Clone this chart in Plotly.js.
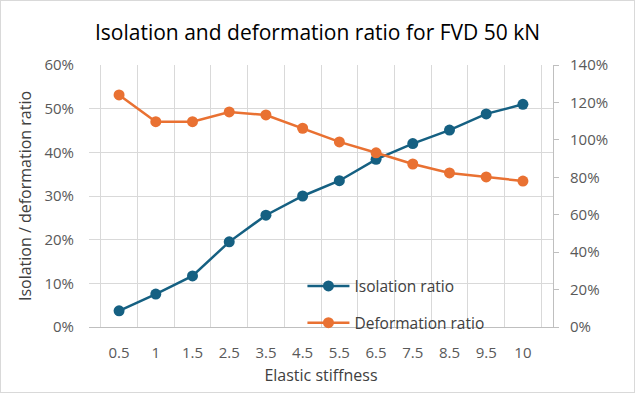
<!DOCTYPE html>
<html>
<head>
<meta charset="utf-8">
<script src="https://cdn.plot.ly/plotly-3.0.1.min.js"></script>
<style>
html,body{margin:0;padding:0;background:#fff;}
#wrap{position:relative;width:635px;height:393px;}
#chart{width:635px;height:393px;}
#frame{position:absolute;left:0;top:0;width:633px;height:391px;border:1px solid #d9d9d9;pointer-events:none;}
</style>
</head>
<body>
<div id="wrap"><div id="chart"></div><div id="frame"></div></div>
<script>
const categories = ["0.5","1","1.5","2.5","3.5","4.5","5.5","6.5","7.5","8.5","9.5","10"];
const isolationRatio = [0.037,0.0755,0.117,0.195,0.256,0.300,0.335,0.384,0.420,0.451,0.488,0.510];
const deformationRatio = [1.240,1.097,1.097,1.149,1.133,1.062,0.989,0.931,0.871,0.823,0.802,0.780];

const font = "Open Sans, Inter, sans-serif";
const traces = [
  {x: categories, y: isolationRatio, name: "Isolation ratio", type: "scatter", mode: "lines+markers",
   line: {color: "#156082", width: 2.5}, marker: {color: "#156082", size: 11}, yaxis: "y", legend: "legend"},
  {x: categories, y: deformationRatio, name: "Deformation ratio", type: "scatter", mode: "lines+markers",
   line: {color: "#E97132", width: 2.5}, marker: {color: "#E97132", size: 11}, yaxis: "y2", legend: "legend2"}
];
const layout = {
  width: 635, height: 393,
  margin: {l: 89, r: 82, t: 65, b: 66},
  paper_bgcolor: "#fff", plot_bgcolor: "#fff",
  font: {family: font, color: "#595959", size: 15},
  title: {text: "Isolation and deformation ratio for FVD 50 kN", font: {family: font, size: 21, color: "#000"}, x: 0.5, xanchor: "center", y: 0.917, yanchor: "middle"},
  xaxis: {type: "category", tickson: "boundaries", showgrid: true, gridcolor: "#d9d9d9", gridwidth: 1,
    showline: true, linecolor: "#bfbfbf", linewidth: 1, ticks: "", zeroline: false,
    ticklabelstandoff: 12,
    tickfont: {size: 15, color: "#595959"},
    title: {text: "Elastic stiffness", font: {size: 16, color: "#404040"}, standoff: 8}},
  yaxis: {range: [0, 0.6], dtick: 0.1, tickformat: ".0%", showgrid: true, gridcolor: "#d9d9d9",
    zeroline: false, showline: false, ticks: "", tickfont: {size: 15, color: "#595959"},
    ticklabelstandoff: 14,
    title: {text: "Isolation / deformation ratio", font: {size: 16, color: "#404040"}, standoff: 8}},
  yaxis2: {range: [0, 1.4], dtick: 0.2, tickformat: ".0%", overlaying: "y", side: "right", showgrid: false,
    zeroline: false, showline: true, linecolor: "#bfbfbf", linewidth: 1, ticks: "outside", ticklen: 5, tickcolor: "#bfbfbf",
    ticklabelstandoff: 8,
    tickfont: {size: 15, color: "#595959"}},
  legend: {x: 0.46, xanchor: "left", y: 0.155, yanchor: "middle", bgcolor: "rgba(0,0,0,0)",
    itemwidth: 42, font: {size: 15.5, color: "#404040"}},
  legend2: {x: 0.46, xanchor: "left", y: 0.015, yanchor: "middle", bgcolor: "rgba(0,0,0,0)",
    itemwidth: 42, font: {size: 15.5, color: "#404040"}},
  showlegend: true
};
Plotly.newPlot("chart", traces, layout, {displayModeBar: false, staticPlot: true});
</script>
</body>
</html>
